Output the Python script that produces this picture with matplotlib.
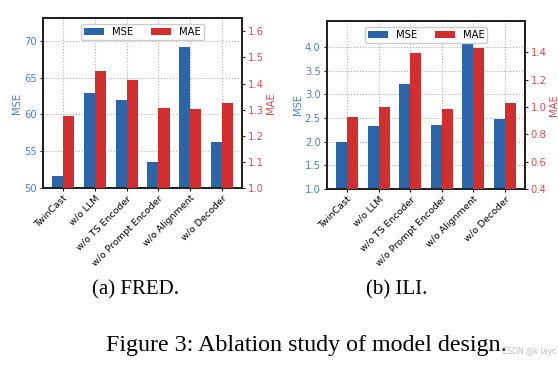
import numpy as np
import matplotlib
matplotlib.use('Agg')
import matplotlib.pyplot as plt

modelos = ['TwinCast', 'w/o LLM', 'w/o TS Encoder', 'w/o Prompt Encoder',
           'w/o Alignment', 'w/o Decoder']

fred_mse = [51.64, 62.94, 61.98, 53.5, 69.2, 56.24]
fred_mae = [1.274, 1.448, 1.413, 1.305, 1.301, 1.324]

ili_mse = [1.99, 2.33, 3.22, 2.35, 4.07, 2.49]
ili_mae = [0.926, 0.999, 1.395, 0.984, 1.432, 1.028]

azul = '#2b67a8'
vermelho = '#d22e2e'
azul_tick = '#4f80bf'
vermelho_tick = '#dd4b4b'
fs = 7.2


def painel(pos, mse, mae, lim_mse, lim_mae, ticks_mse, ticks_mae, fmt_mse):
    ax = fig.add_axes(pos)
    x = np.arange(len(modelos))
    w = 0.35
    b1 = ax.bar(x - w / 2, mse, w, color=azul, label='MSE', zorder=3)
    ax.set_ylim(*lim_mse)
    ax.set_yticks(ticks_mse)
    ax.set_yticklabels([fmt_mse.format(t) for t in ticks_mse])
    ax.tick_params(axis='y', colors=azul_tick, labelsize=fs, length=2.5, pad=2)
    ax.tick_params(axis='y', color='#222222')
    ax.set_ylabel('MSE', color=azul_tick, fontsize=fs, labelpad=1.5)
    ax.set_xticks(x)
    ax.set_xticklabels(modelos, rotation=45, ha='right', fontsize=6.8,
                       rotation_mode='anchor')
    ax.tick_params(axis='x', pad=2, length=2)
    ax.grid(True, color='#b0b0b0', linestyle=':', linewidth=0.8, zorder=0)
    ax.set_axisbelow(True)

    ax2 = ax.twinx()
    b2 = ax2.bar(x + w / 2, mae, w, color=vermelho, label='MAE', zorder=3)
    ax2.set_ylim(*lim_mae)
    ax2.set_yticks(ticks_mae)
    ax2.set_yticklabels(['{:.1f}'.format(t) for t in ticks_mae])
    ax2.tick_params(axis='y', colors=vermelho_tick, labelsize=fs, length=2.5, pad=1.5)
    ax2.tick_params(axis='y', color='#222222')
    ax2.set_ylabel('MAE', color=vermelho_tick, fontsize=fs, labelpad=1.5)

    for a in (ax, ax2):
        for s in a.spines.values():
            s.set_linewidth(1.4)
            s.set_color('#222222')

    leg = ax2.legend([b1, b2], ['MSE', 'MAE'], loc='upper center', ncol=2,
                     fontsize=fs, columnspacing=1.8, handlelength=2.0,
                     borderpad=0.3, framealpha=1, bbox_to_anchor=(0.5, 0.995))
    leg.get_frame().set_edgecolor('#cccccc')
    return ax


fig = plt.figure(figsize=(5.58, 3.66), dpi=100)

painel([0.077, 0.486, 0.357, 0.465], fred_mse, fred_mae,
       (50, 73.1), (1.0, 1.651), [50, 55, 60, 65, 70],
       [1.0, 1.1, 1.2, 1.3, 1.4, 1.5, 1.6], '{:.0f}')
painel([0.586, 0.484, 0.355, 0.459], ili_mse, ili_mae,
       (1.0, 4.56), (0.4, 1.63), [1.0, 1.5, 2.0, 2.5, 3.0, 3.5, 4.0],
       [0.4, 0.6, 0.8, 1.0, 1.2, 1.4], '{:.1f}')

serif = ['Liberation Serif', 'DejaVu Serif']
fig.text(135 / 558, 1 - 290 / 366, '(a) FRED.', ha='center', va='center',
         fontsize=15, family=serif)
fig.text(397 / 558, 1 - 290 / 366, '(b) ILI.', ha='center', va='center',
         fontsize=15, family=serif)
fig.text(306 / 558, 1 - 346 / 366, 'Figure 3: Ablation study of model design.',
         ha='center', va='center', fontsize=17.3, family=serif)
fig.text(556 / 558, 1 - 352 / 366, 'CSDN @k layc', ha='right', va='center',
         fontsize=5.5, color='#bbbbbb')

fig.savefig('out.png', dpi=100)
